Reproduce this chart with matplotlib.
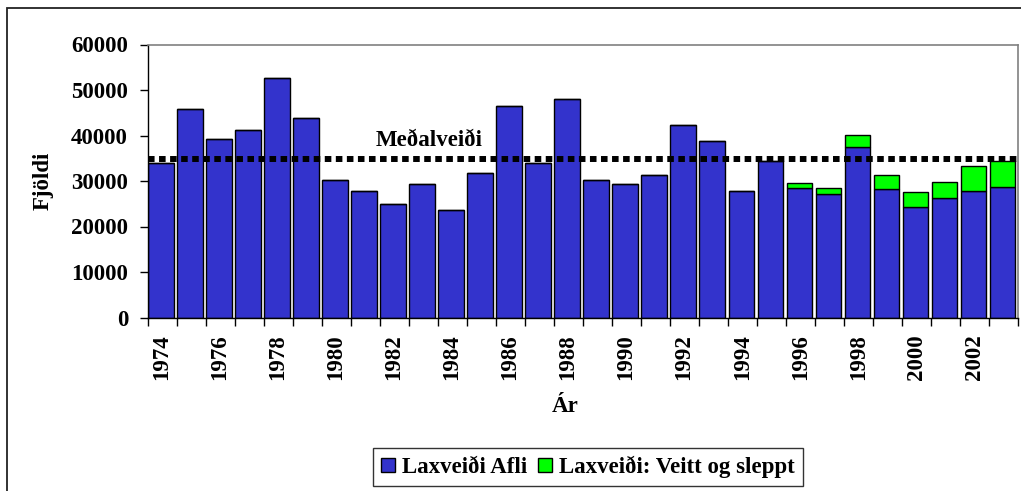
#!/usr/bin/env python3
"""Laxveiði: afli og veitt og sleppt, 1974-2003."""
import numpy as np
import matplotlib
matplotlib.use("Agg")
import matplotlib.pyplot as plt
import matplotlib.patches as mpatches

plt.rcParams['font.family'] = ['Liberation Serif', 'DejaVu Serif']
plt.rcParams['font.weight'] = 'bold'

years = list(range(1974, 2004))
afli = [34000, 45800, 39300, 41200, 52600, 43800, 30150, 27900, 24900, 29400,
        23700, 31700, 46500, 34000, 48100, 30150, 29400, 31400, 42400, 38900,
        27900, 34400, 28500, 27100, 37400, 28200, 24350, 26300, 27900, 28600]
sleppt = [0, 0, 0, 0, 0, 0, 0, 0, 0, 0,
          0, 0, 0, 0, 0, 0, 0, 0, 0, 0,
          0, 0, 960, 1470, 2710, 3150, 3160, 3450, 5350, 5720]
medalveidi = 34900

x = np.arange(len(years))
fs = 16.5

fig = plt.figure(figsize=(10.21, 4.91), dpi=100)
ax = fig.add_axes([147.5 / 1021, 1 - 317.5 / 491, (1017.7 - 147.5) / 1021, (317.5 - 44.5) / 491])

# outer frame
fig.patches.append(mpatches.Rectangle((7 / 1021, -0.05), 1.1, 1 - 8 / 491 + 0.05,
                                      transform=fig.transFigure, fill=False,
                                      edgecolor='#222222', linewidth=1.3, zorder=0))

ax.bar(x - 0.47, afli, width=0.87, align='edge', color='#3333CC',
       edgecolor='black', linewidth=1.0, label='Laxveiði Afli', zorder=2)
ax.bar(x - 0.47, sleppt, width=0.87, align='edge', bottom=afli, color='#00FF00',
       edgecolor='black', linewidth=1.0, label='Laxveiði: Veitt og sleppt', zorder=2)

ax.axhline(medalveidi, color='black', linewidth=4.3, linestyle=(0, (1.1, 0.75)),
           dash_capstyle='butt', zorder=3)
ax.text(9.2, medalveidi + 1600, 'Meðalveiði', ha='center', va='bottom',
        fontsize=fs, fontweight='bold')

ax.set_xlim(-0.5, len(years) - 0.5)
ax.set_ylim(0, 60000)
ax.set_yticks(np.arange(0, 60001, 10000))
ax.tick_params(axis='y', labelsize=fs, length=6, width=1, direction='out', pad=8)

ax.set_xticks(x[::2])
ax.set_xticklabels([str(y) for y in years[::2]], rotation=90)
ax.set_xticks(np.arange(-0.5, len(years), 1), minor=True)
ax.tick_params(axis='x', which='major', length=0, labelsize=fs, pad=12)
ax.tick_params(axis='x', which='minor', length=6, width=1, direction='out')

for side in ['top', 'right']:
    ax.spines[side].set_color('#808080')
    ax.spines[side].set_linewidth(1.2)
for side in ['left', 'bottom']:
    ax.spines[side].set_color('black')
    ax.spines[side].set_linewidth(1.0)

ax.set_ylabel('Fjöldi', fontsize=fs, fontweight='bold')
ax.yaxis.set_label_coords((54 - 147.5) / 870, 0.5)
fig.text(565 / 1021, 1 - 407 / 491, 'Ár', ha='center', va='center',
         fontsize=fs, fontweight='bold')

fig.legend(loc='center', bbox_to_anchor=(588 / 1021, 1 - 467 / 491), ncol=2,
           fontsize=fs, frameon=True, fancybox=False, edgecolor='black',
           handlelength=0.6, handleheight=0.6, handletextpad=0.3,
           columnspacing=0.5, borderpad=0.35, borderaxespad=0)

fig.savefig('out.png', dpi=100)
print("Saved: out.png")
